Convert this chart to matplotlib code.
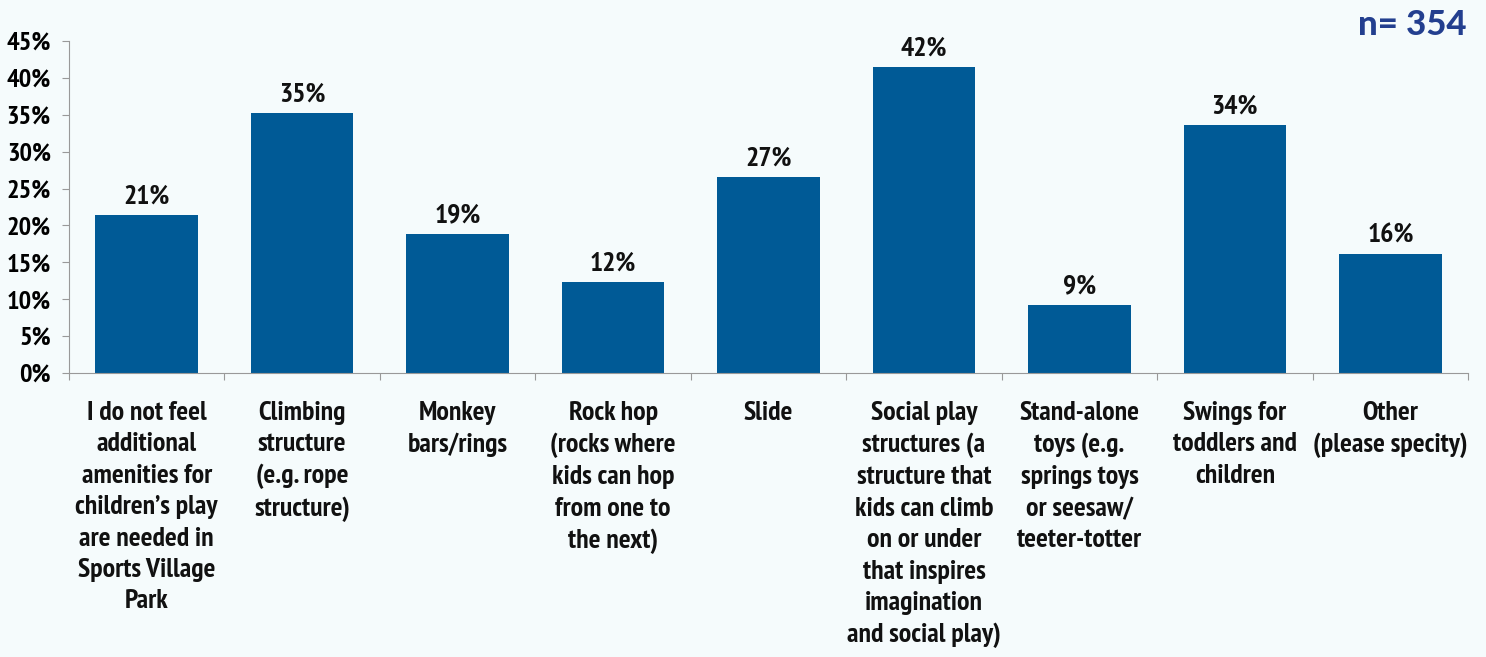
import matplotlib.pyplot as plt
from matplotlib import font_manager
from matplotlib.font_manager import FontProperties
from matplotlib.ticker import FuncFormatter, FixedLocator

categorias = [
    "I do not feel\nadditional\namenities for\nchildren\u2019s play\nare needed in\nSports Village\nPark",
    "Climbing\nstructure\n(e.g. rope\nstructure)",
    "Monkey\nbars/rings",
    "Rock hop\n(rocks where\nkids can hop\nfrom one to\nthe next)",
    "Slide",
    "Social play\nstructures (a\nstructure that\nkids can climb\non or under\nthat inspires\nimagination\nand social play)",
    "Stand-alone\ntoys (e.g.\nsprings toys\nor seesaw/\nteeter-totter",
    "Swings for\ntoddlers and\nchildren",
    "Other\n(please specity)",
]
porcentajes = [21.4, 35.2, 18.8, 12.3, 26.6, 41.5, 9.2, 33.6, 16.1]
ticks_y = [0, 5, 10, 15, 20, 25, 30, 35, 40, 45]
muestra = "n= 354"

fondo = "#f5fbfc"
azul = "#005a96"

fuentes = font_manager.fontManager.ttflist


def primera(candidatas):
    nombres = {f.name for f in fuentes}
    for c in candidatas:
        if c in nombres:
            return c
    return "DejaVu Sans"


def pesada(familias, peso_min=700):
    # busca un archivo de fuente gruesa de alguna de las familias
    for fam in familias:
        opciones = [f for f in fuentes if f.name == fam and isinstance(f.weight, int)
                    and f.weight >= peso_min and f.style == 'normal']
        if opciones:
            opciones.sort(key=lambda f: f.weight, reverse=True)
            return FontProperties(fname=opciones[0].fname)
    return FontProperties(family='DejaVu Sans', weight='bold')


fuente = primera(["PT Sans Narrow", "Open Sans Condensed", "Roboto Condensed",
                  "Asap Condensed", "Archivo Narrow", "Barlow Semi Condensed"])
plt.rcParams['font.family'] = [fuente, 'DejaVu Sans']

fig = plt.figure(figsize=(14.86, 6.57), dpi=100, facecolor=fondo)
ax = fig.add_axes([0.0464, 0.4323, 0.9416, 0.5053])
ax.set_facecolor(fondo)

x = range(len(categorias))
barras = ax.bar(x, porcentajes, width=0.66, color=azul, zorder=2)

# etiquetas de valor sobre cada barra
for xi, v in zip(x, porcentajes):
    ax.text(xi, v + 0.9, f"{round(v)}%", ha='center', va='bottom',
            fontsize=20, fontweight='bold', color='#111111')

ax.set_xlim(-0.5, len(categorias) - 0.5)
ax.set_ylim(0, 45)
ax.yaxis.set_major_locator(FixedLocator(ticks_y))
ax.yaxis.set_major_formatter(FuncFormatter(lambda v, p: f"{int(v)}%"))
ax.tick_params(axis='y', labelsize=19, length=5, color='#999999', pad=8)
for t in ax.get_yticklabels():
    t.set_fontweight('bold')

# marcas del eje x entre categorias, etiquetas centradas bajo las barras
ax.set_xticks([i - 0.5 for i in range(len(categorias) + 1)])
ax.set_xticklabels([])
ax.tick_params(axis='x', length=5, color='#999999')
for xi, nombre in zip(x, categorias):
    ax.text(xi, -3.8, nombre, ha='center', va='top', fontsize=20,
            fontweight='bold', color='#111111', linespacing=1.39,
            clip_on=False)

for lado in ['top', 'right']:
    ax.spines[lado].set_visible(False)
ax.spines['left'].set_color('#999999')
ax.spines['bottom'].set_color('#999999')

fp_n = pesada(["Montserrat", "Nunito Sans", "Lato", "Open Sans"])
fp_n.set_size(25)
fig.text(0.987, 0.962, muestra, ha='right', va='center',
         fontproperties=fp_n, color='#233f8f')

fig.savefig('out.png', dpi=100, facecolor=fondo)
